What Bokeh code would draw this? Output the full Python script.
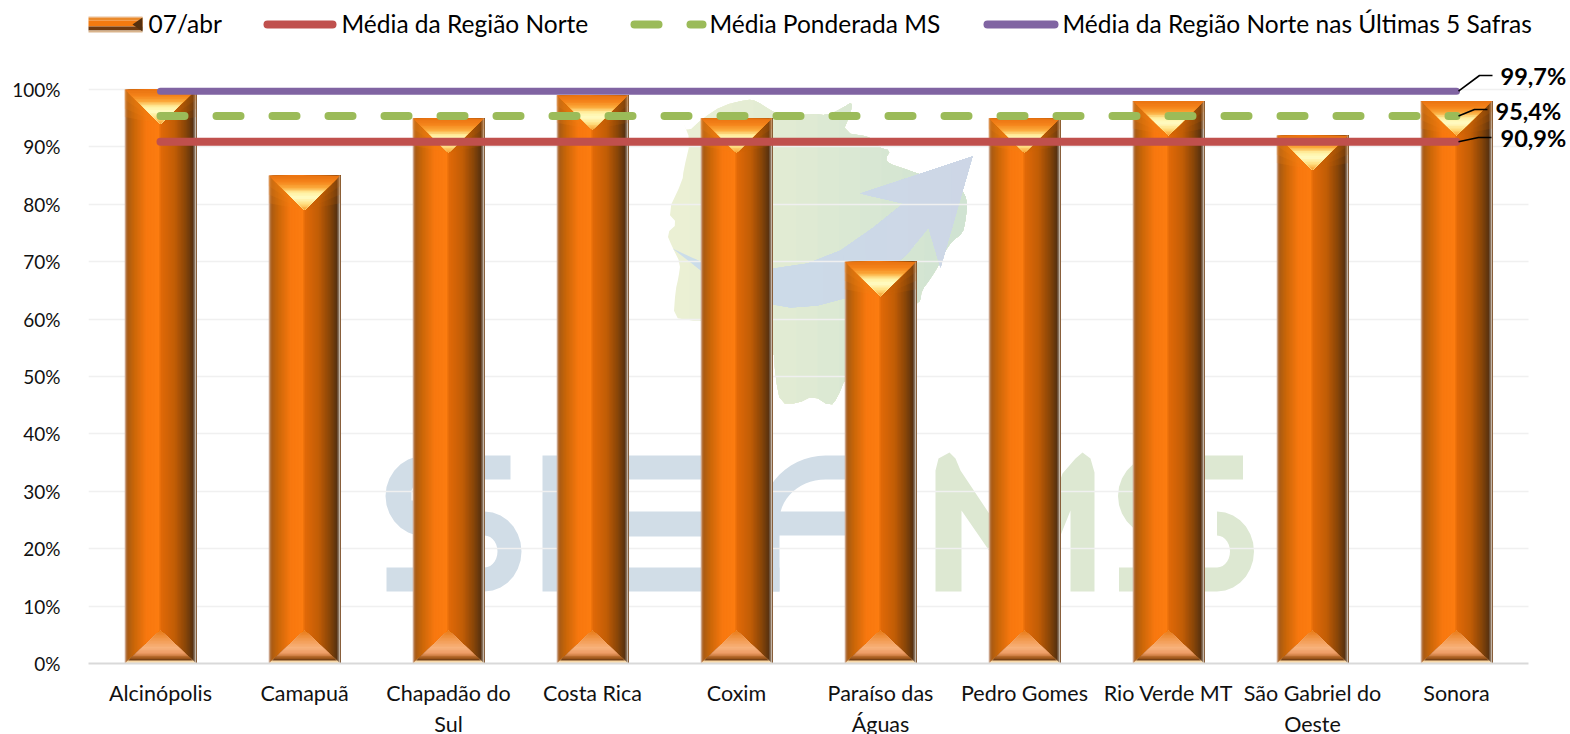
import math
from bokeh.plotting import figure
from bokeh.models import FixedTicker, Range1d, ColumnDataSource
from bokeh.core.properties import value
from bokeh.embed import file_html
from bokeh.resources import INLINE

# ---- data ----
categories = ["Alcinópolis", "Camapuã", "Chapadão do\nSul", "Costa Rica", "Coxim",
              "Paraíso das\nÁguas", "Pedro Gomes", "Rio Verde MT", "São Gabriel do\nOeste", "Sonora"]
abr_07 = [100, 85, 95, 99, 95, 70, 95, 98, 92, 98]
media_norte = [90.9, 90.9, 90.9, 90.9, 90.9, 90.9, 90.9, 90.9, 90.9, 90.9]
media_ms = [95.4, 95.4, 95.4, 95.4, 95.4, 95.4, 95.4, 95.4, 95.4, 95.4]
media_5safras = [99.7, 99.7, 99.7, 99.7, 99.7, 99.7, 99.7, 99.7, 99.7, 99.7]
y_ticks = [0, 10, 20, 30, 40, 50, 60, 70, 80, 90, 100]
legend_labels = ["07/abr", "Média da Região Norte", "Média Ponderada MS", "Média da Região Norte nas Últimas 5 Safras"]

# ---- layout: page pixels <-> data ----
W, H = 1570, 734
F_L, F_R, F_T, F_B = 88, 1570, 0, 663   # frame in page pixels
CAT_PX = 144.0
PCT_PX = 5.74
def X(px): return (px - F_L) / CAT_PX
def Y(py): return (F_B - py) / PCT_PX
FONT = value("Lato")

p = figure(width=W, height=H, frame_width=F_R - F_L, frame_height=F_B - F_T, output_backend="svg", toolbar_location=None,
           x_range=Range1d(0, (F_R - F_L) / CAT_PX), y_range=Range1d(0, (F_B - F_T) / PCT_PX),
           min_border_left=F_L, min_border_right=0, min_border_top=0, min_border_bottom=H - F_B,
           background_fill_color="white", border_fill_color="white", outline_line_color=None)

# ---- helpers ----
def hex2rgb(h): return tuple(int(h[i:i + 2], 16) for i in (1, 3, 5))
def ramp(stops, t):
    for (a, ca), (b, cb) in zip(stops, stops[1:]):
        if t <= b:
            f = 0 if b == a else (t - a) / (b - a)
            ra, rb = hex2rgb(ca), hex2rgb(cb)
            return "#%02x%02x%02x" % tuple(round(u + (v - u) * f) for u, v in zip(ra, rb))
    return stops[-1][1]

def clip_right_of(poly, x0):
    out = []
    for i, (x1, y1) in enumerate(poly):
        x2, y2 = poly[(i + 1) % len(poly)]
        if x1 >= x0: out.append((x1, y1))
        if (x1 >= x0) != (x2 >= x0):
            t = (x0 - x1) / (x2 - x1)
            out.append((x0, y1 + (y2 - y1) * t))
    return out

def chaikin(poly):
    out = []
    for i, (x1, y1) in enumerate(poly):
        x2, y2 = poly[(i + 1) % len(poly)]
        out.append((0.75 * x1 + 0.25 * x2, 0.75 * y1 + 0.25 * y2))
        out.append((0.25 * x1 + 0.75 * x2, 0.25 * y1 + 0.75 * y2))
    return out

def arc(cx_, cy_, rx, ry, a0, a1, n=14):
    # angles in degrees, y pointing down the page when the angle grows past 180
    return [(cx_ + rx * math.cos(math.radians(a0 + (a1 - a0) * i / n)),
             cy_ - ry * math.sin(math.radians(a0 + (a1 - a0) * i / n))) for i in range(n + 1)]

def backdrop(poly, c_left, c_right, n=14):
    xs_ = [q[0] for q in poly]
    lo, hi = min(xs_), max(xs_)
    for i in range(n):
        x0 = lo + (hi - lo) * i / n - (1 if i == 0 else 0)
        part = clip_right_of(poly, x0)
        if len(part) < 3: continue
        col = ramp([(0, c_left), (1, c_right)], i / (n - 1))
        p.patch([X(q[0]) for q in part], [Y(q[1]) for q in part], fill_color=col, line_color=None, level="image")

# ---- watermark (backdrop picture of the original) ----
state_outline = [(682,120),(687,132),(702,118),(722,105),(747,99),(755,100),(772,111),(787,118),(810,113),(827,115),(843,107),(852,101),
    (850,113),(842,132),(873,137),(878,147),(890,150),(885,158),(888,163),(903,168),(917,173),(960,187),(967,200),(965,220),(962,233),(952,240),
    (945,250),(938,265),(930,278),(921,290),(920,300),(916,303),(845,377),(837,397),(830,406),(813,395),(797,403),(780,403),(775,377),(773,347),
    (702,320),(690,320),(673,317),(675,290),(678,277),(680,263),(672,247),(666,233),(677,223),(667,212),(682,180),(683,170),(690,140)]
arrow_top = arc(790, 120, 118, 148, 230, 270, 6)
arrow_outline = [(672,248),(702,262),(740,268),(773,268),(807,263),(840,250),(873,227),(903,203),(860,193),(972,156),(940,267),(928,227),
    (907,253),(880,277),(847,297),(817,305),(790,307),(767,303),(737,290),(703,272)]
backdrop(chaikin(state_outline), "#ebf0d4", "#d0e3d2")
backdrop(arrow_outline, "#cbdde9", "#cdd6e6")

letter_s = [[(510,455),(425,455)] + arc(425,495.5,40,40.5,90,270) + [(425,500),(411,500),(411,490),(416,479),(510,479)],
            [(386,591),(484,591)] + arc(484,551,37,40,-90,90) + arc(484,551,13,16,90,-90) + [(386,567)]]
letter_e = [(542,455),(705,455),(705,479),(590,479),(590,511),(705,511),(705,536),(590,536),(590,567),(779,567),(779,591),(542,591)]
letter_a = [(850,455),(825,455)] + arc(825,520,65,65,90,180) + [(760,591),(779,591),(779,535),(850,535),(850,511),(779,511)] + arc(825,520,46,41,180,90) + [(850,479)]
letter_m = [(935,591),(935,470),(938,458),(949,452),(955,458),(960,470),(1028,572),(1062,473),(1075,458),(1082,452),(1090,458),(1094,472),(1094,591),(1070,591),(1070,510),(1030,610),(961,510),(961,591)]
S2_SHIFT = 732.5
for poly, col in [(letter_s[0], "#d1dde7"), (letter_s[1], "#d1dde7"), (letter_e, "#d1dde7"), (letter_a, "#d1dde7"), (letter_m, "#dde8d2")]:
    p.patch([X(q[0]) for q in poly], [Y(q[1]) for q in poly], fill_color=col, line_color=None, level="image")
for poly in letter_s:
    p.patch([X(q[0] + S2_SHIFT) for q in poly], [Y(q[1]) for q in poly], fill_color="#dde8d2", line_color=None, level="image")

# ---- bars with bevel shading ----
BAR_W = 71.5 / CAT_PX
side_stops = [(0, "#c9a084"), (0.025, "#a85a14"), (0.12, "#c96608"), (0.3, "#f8780f"), (0.48, "#fc7c10"), (0.5, "#e26a08"),
              (0.7, "#c25d06"), (0.85, "#8c4708"), (0.96, "#5a3210"), (0.985, "#7d6a58"), (1, "#c4b5a6")]
top_stops = [(0, "#ea7512"), (0.16, "#f5831a"), (0.33, "#fbab3c"), (0.47, "#fff0a0"), (0.62, "#fffcc4"), (0.8, "#ffdf80"), (1, "#f8921e")]
bot_stops = [(0, "#e8780f"), (0.3, "#f29a50"), (0.55, "#f8b27c"), (0.72, "#eb9a62"), (0.85, "#a55a1a"), (0.92, "#6e3c14"), (0.95, "#f8d8a8"), (1, "#fbe0b8")]
N_STRIP = 48
BEVEL = 34.5 / PCT_PX

s_left, s_right, s_top, s_bottom, s_color = [], [], [], [], []
for i, v in enumerate(abr_07):
    c = i + 0.5
    for k in range(N_STRIP):
        t = k / (N_STRIP - 1)
        s_left.append(c - BAR_W / 2 + BAR_W * k / N_STRIP)
        s_right.append(c + BAR_W / 2)
        s_top.append(v); s_bottom.append(0); s_color.append(ramp(side_stops, t))
p.quad(left="l", right="r", top="t", bottom="b", fill_color="c", line_color=None,
       source=ColumnDataSource(dict(l=s_left, r=s_right, t=s_top, b=s_bottom, c=s_color)))

bx, by, bc, bal = [], [], [], []
N_BAND = 22
for i, v in enumerate(abr_07):
    c = i + 0.5
    hw = BAR_W / 2
    # side facets of the top bevel, fading downward
    for k in (0.3, 0.55, 0.8):
        bx.append([c - hw, c, c - hw]); by.append([v, v - BEVEL, v - BEVEL * k]); bc.append("#f08414"); bal.append(0.2)
        bx.append([c + hw, c, c + hw]); by.append([v, v - BEVEL, v - BEVEL * k]); bc.append("#c66208"); bal.append(0.16)
    for k in range(N_BAND):
        t = k / N_BAND
        yy = v - BEVEL * t
        bx.append([c - hw * (1 - t), c + hw * (1 - t), c]); by.append([yy, yy, v - BEVEL]); bc.append(ramp(top_stops, t)); bal.append(1)
    for k in range(N_BAND, 0, -1):
        t = k / N_BAND
        yy = BEVEL * (1 - t) * 0.96
        bx.append([c - hw * t, c + hw * t, c]); by.append([yy, yy, BEVEL * 0.96]); bc.append(ramp(bot_stops, t)); bal.append(1)
p.patches(xs="x", ys="y", fill_color="c", fill_alpha="a", line_color=None, source=ColumnDataSource(dict(x=bx, y=by, c=bc, a=bal)))

# ---- average lines ----
cx = [i + 0.5 for i in range(len(categories))]
RED, GREEN, PURPLE = "#c0504d", "#9bbb59", "#8064a2"
p.line(cx, media_norte, line_color=RED, line_width=8, line_cap="round")
p.line(cx, media_ms, line_color=GREEN, line_width=8, line_cap="round", line_dash="24 32")
p.line(cx, media_5safras, line_color=PURPLE, line_width=7, line_cap="round")

# ---- leader lines and value labels ----
END = cx[-1]
series_end = [media_5safras[-1], media_ms[-1], media_norte[-1]]
leader_dx = [(23, 36), (18, 31), (22, 35)]
label_left = [1500, 1495, 1500]
label_y = [75, 110, 137]
elbow_y = [75, 109, 137]
lx, ly, tx, ty, tt = [], [], [], [], []
for v, (d1, d2), lab_x, lab_y, e_y in zip(series_end, leader_dx, label_left, label_y, elbow_y):
    lx.append([END + 2 / CAT_PX, END + d1 / CAT_PX, END + d2 / CAT_PX])
    ly.append([v, Y(e_y), Y(e_y)])
    tx.append(X(lab_x)); ty.append(Y(lab_y)); tt.append(f"{v:.1f}%".replace(".", ","))
p.multi_line(lx, ly, line_color="black", line_width=1.6)
p.text(tx, ty, text=tt, text_font=FONT, text_font_style="bold", text_font_size="23.5px", text_baseline="middle", text_color="black")

# ---- legend ----
LEG_Y = Y(24)
sw_l, sw_r, sw_top, sw_bot = 73, 142, 16, 32
sw_bands = [(16, 17, "#e7c09a"), (17, 20, "#ea8a2c"), (20, 26, "#f27a10"), (26, 30, "#6e3a10"), (30, 32, "#d9b48c")]
for a, b, col in sw_bands:
    p.quad(left=[X(sw_l)], right=[X(sw_r)], top=[Y(a)], bottom=[Y(b)], fill_color=col, line_color=None)
p.patch([X(sw_l), X(sw_l + 10), X(sw_l)], [Y(sw_top + 1), Y(24), Y(sw_bot - 1)], fill_color="#a8590f", line_color=None)
p.patch([X(sw_r), X(sw_r - 10), X(sw_r)], [Y(sw_top + 1), Y(24), Y(sw_bot - 1)], fill_color="#55300f", line_color=None)
p.line([X(267), X(332)], [LEG_Y, LEG_Y], line_color=RED, line_width=8, line_cap="round")
p.multi_line([[X(634), X(658)], [X(690), X(702)]], [[LEG_Y, LEG_Y], [LEG_Y, LEG_Y]], line_color=GREEN, line_width=8, line_cap="round")
p.line([X(987), X(1054)], [LEG_Y, LEG_Y], line_color=PURPLE, line_width=8, line_cap="round")
leg_x = [148, 341, 709, 1062]
p.text([X(q) for q in leg_x], [Y(23)] * 4, text=legend_labels, text_font=FONT, text_font_size="24.5px",
       text_baseline="middle", text_color="black")

# ---- axes and grid ----
p.ygrid.ticker = FixedTicker(ticks=y_ticks)
p.ygrid.grid_line_color = "#f0f0f0"
p.ygrid.grid_line_width = 1.5
p.ygrid.cross_bounds = (0, 10)
p.xgrid.visible = False

p.yaxis.ticker = FixedTicker(ticks=y_ticks)
p.yaxis.major_label_overrides = {t: f"{t}%" for t in y_ticks}
p.yaxis.axis_line_color = None
p.yaxis.major_tick_line_color = None
p.yaxis.minor_tick_line_color = None
p.yaxis.major_label_text_font = "Lato"
p.yaxis.major_label_text_font_size = "19px"
p.yaxis.major_label_text_color = "#111111"
p.yaxis.major_label_standoff = 22

p.xaxis.ticker = FixedTicker(ticks=cx)
p.xaxis.major_label_overrides = {x: n for x, n in zip(cx, categories)}
p.xaxis.bounds = (0, 10)
p.xaxis.axis_line_color = "#d9d9d9"
p.xaxis.axis_line_width = 2
p.xaxis.major_tick_line_color = None
p.xaxis.minor_tick_line_color = None
p.xaxis.major_label_text_font = "Lato"
p.xaxis.major_label_text_font_size = "21.5px"
p.xaxis.major_label_text_color = "#111111"
p.xaxis.major_label_standoff = 10

open("out.html", "w").write(file_html(p, INLINE))
